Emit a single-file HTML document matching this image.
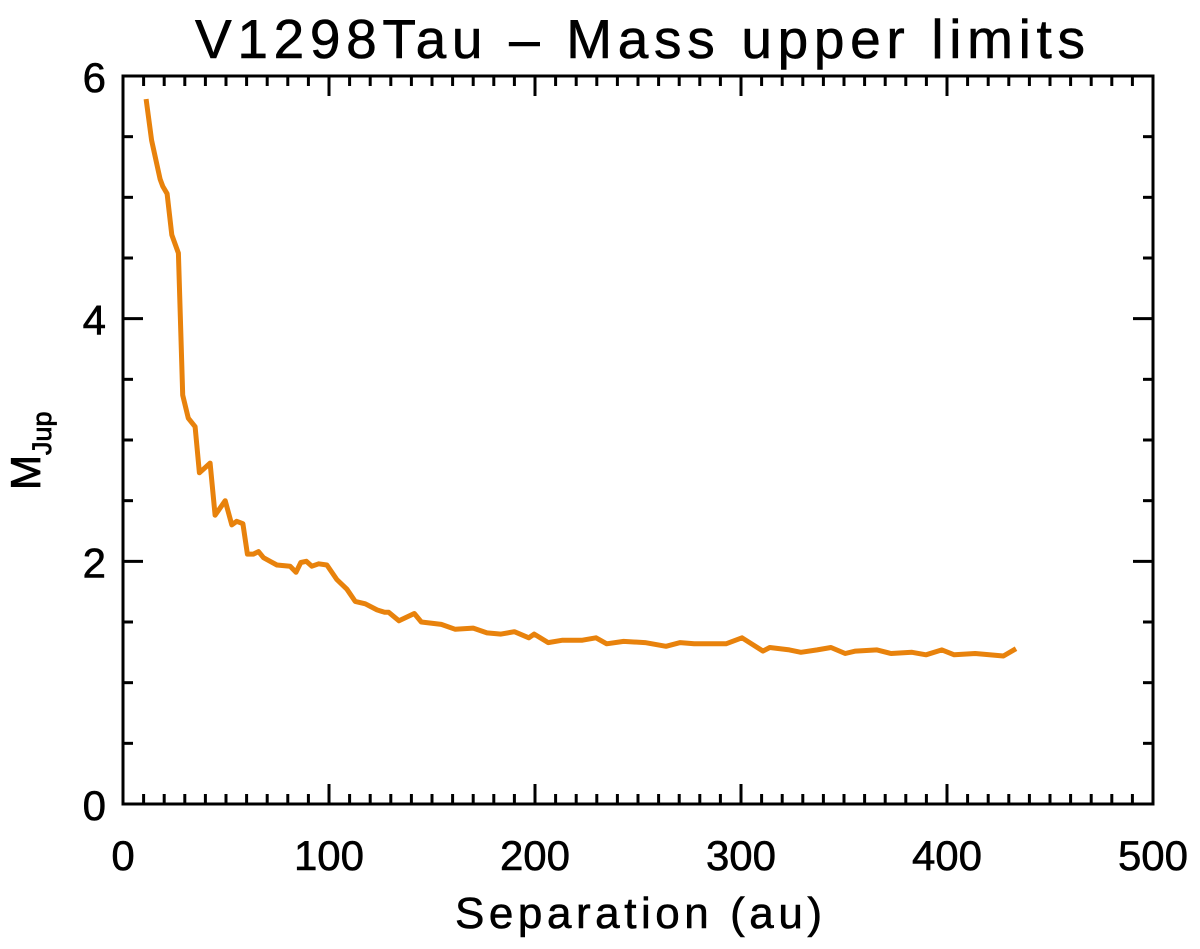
<!DOCTYPE html>
<html><head><meta charset="utf-8"><style>
body{margin:0;background:#fff}
svg{display:block;font-family:"Liberation Sans","DejaVu Sans",sans-serif}
</style></head><body>
<svg id="chart" width="1200" height="949" viewBox="0 0 1200 949">
<text x="195" y="58" font-size="55" textLength="890" lengthAdjust="spacing" stroke="#000" stroke-width="0.6">V1298Tau – Mass upper limits</text>
<text x="455" y="928" font-size="44" textLength="367" lengthAdjust="spacing" stroke="#000" stroke-width="0.6">Separation (au)</text>
<text transform="translate(40,490) rotate(-90)" font-size="42" stroke="#000" stroke-width="0.8">M<tspan font-size="27" dy="11">Jup</tspan></text>
<g id="axes"></g>
<g id="series"></g>
<rect x="123" y="76" width="1030" height="728" fill="none" stroke="#000" stroke-width="3"/>
</svg>
<script>
const xTicks=[0,100,200,300,400,500];
const yTicks=[0,2,4,6];
const sepAu=[11.2,13.9,18,19.3,21.4,23.7,26.9,29,31.7,35,37.1,42.3,44.7,49.6,52.8,55.2,58.2,60.4,63.3,65.8,68.2,71.4,74.7,81.1,84,86.3,89,91.7,95,99,103.8,108.7,112.7,117.6,123.3,127,129,134,141.4,144.8,154.5,161.3,170,176.7,183.5,190,197,199.6,206.4,213.4,223,229.6,234.8,243,253.4,263.6,270.5,277.3,292.7,300.5,310.7,314,323.5,329.1,337,343.7,350.6,355.6,366,372.8,383,389.8,397.5,403.5,413.7,420.6,427.4,433.5];
const massJup=[5.81,5.47,5.15,5.09,5.03,4.69,4.54,3.37,3.18,3.11,2.73,2.81,2.38,2.5,2.3,2.33,2.31,2.06,2.06,2.08,2.03,2.0,1.97,1.96,1.91,1.99,2.0,1.96,1.98,1.97,1.85,1.77,1.67,1.65,1.6,1.58,1.58,1.51,1.57,1.5,1.48,1.44,1.45,1.41,1.4,1.42,1.37,1.4,1.33,1.35,1.35,1.37,1.32,1.34,1.33,1.3,1.33,1.32,1.32,1.37,1.26,1.29,1.27,1.25,1.27,1.29,1.24,1.26,1.27,1.24,1.25,1.23,1.27,1.23,1.24,1.23,1.22,1.28];

const L=123,R=1153,T=76,B=804;
const xs=v=>L+(v-0)/500*(R-L);
const ys=v=>B-(v-0)/6*(B-T);
const NS='http://www.w3.org/2000/svg';
const axes=document.getElementById('axes');
function ln(x1,y1,x2,y2,name){
  const e=document.createElementNS(NS,'line');
  e.setAttribute('x1',x1);e.setAttribute('y1',y1);e.setAttribute('x2',x2);e.setAttribute('y2',y2);
  e.setAttribute('stroke','#000');e.setAttribute('stroke-width','3');
  
  
  axes.appendChild(e);
}
function tx(x,y,s,anchor,name){
  const e=document.createElementNS(NS,'text');
  e.setAttribute('x',x);e.setAttribute('y',y);e.setAttribute('font-size','42');e.setAttribute('text-anchor',anchor);
  e.setAttribute('stroke','#000');e.setAttribute('stroke-width','0.6');
  e.textContent=s;
  
  
  axes.appendChild(e);
}
for(let v=0;v<=500;v+=10){
  const x=xs(v),maj=v%100===0,len=maj?20:10;
  ln(x,B,x,B-len,'x-tick');ln(x,T,x,T+len,'x-tick-top');
}
xTicks.forEach(v=>tx(xs(v),870,String(v),'middle','x-tick-label'));
for(let v=0;v<=6.001;v+=0.5){
  const y=ys(v),maj=Math.abs(v-Math.round(v/2)*2)<1e-6,len=maj?20:10;
  ln(L,y,L+len,y,'y-tick');ln(R,y,R-len,y,'y-tick-right');
}
yTicks.forEach(v=>tx(106,ys(v)+16,String(v),'end','y-tick-label'));
const p=document.createElementNS(NS,'polyline');
p.setAttribute('points',sepAu.map((s,i)=>xs(s).toFixed(1)+','+ys(massJup[i]).toFixed(1)).join(' '));
p.setAttribute('fill','none');p.setAttribute('stroke','#e8820c');p.setAttribute('stroke-width','5');p.setAttribute('stroke-linejoin','round');


document.getElementById('series').appendChild(p);
</script>
</body></html>
